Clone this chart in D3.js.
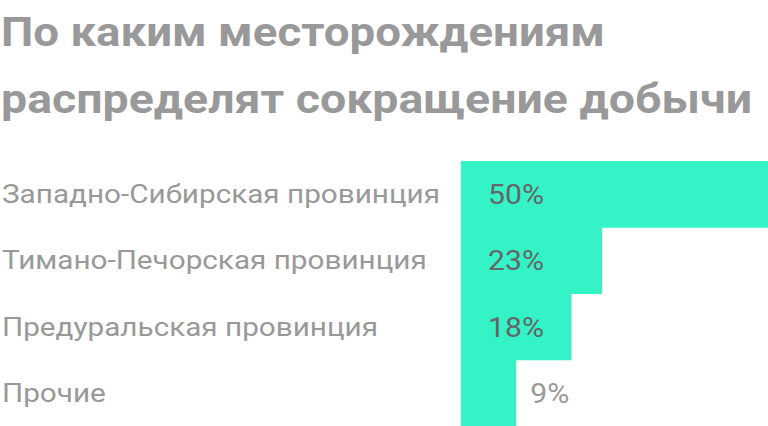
<!DOCTYPE html>
<html>
<head>
<meta charset="utf-8">
<script src="https://cdn.jsdelivr.net/npm/d3@7"></script>
<style>
  body { margin: 0; background: #fff; }
  svg { display: block; }
</style>
</head>
<body>
<svg width="768" height="426"></svg>
<script>
// data
const titleLines = ["По каким месторождениям", "распределят сокращение добычи"];
const categories = ["Западно-Сибирская провинция", "Тимано-Печорская провинция", "Предуральская провинция", "Прочие"];
const values = [50, 23, 18, 9];

const svg = d3.select("svg");
const W = 768, H = 426;
const barLeft = 461;

// title
svg.selectAll(".title")
   .data(titleLines)
   .enter()
   .append("text")
   .attr("class", "title")
   .attr("x", 1)
   .attr("y", function(d, i) { return 46 + i * 67; })
   .attr("textLength", function(d, i) { return i === 0 ? 604 : 751; })
   .attr("lengthAdjust", "spacingAndGlyphs")
   .style("font-family", "Roboto, 'Noto Sans', sans-serif")
   .style("font-weight", 700)
   .style("font-size", "41px")
   .style("fill", "#999")
   .text(function(d) { return d; });

const data = categories.map(function(c, i) { return {name: c, value: values[i]}; });

const x = d3.scaleLinear()
            .domain([0, 50])
            .range([barLeft, W]);

const y = d3.scaleBand()
            .domain(categories)
            .range([161, H])
            .padding(0);

// bars
svg.selectAll("rect.bar")
   .data(data)
   .enter()
   .append("rect")
   .attr("class", "bar")
   .attr("x", x(0))
   .attr("y", function(d) { return y(d.name); })
   .attr("width", function(d) { return x(d.value) - x(0); })
   .attr("height", y.bandwidth() + 0.5)
   .style("fill", "#34f3c6");

// stretch a text selection so its first item gets the wanted width (original font is wider)
function widen(sel, target) {
  const k = target / sel.node().getComputedTextLength();
  sel.each(function() {
    d3.select(this)
      .attr("textLength", this.getComputedTextLength() * k)
      .attr("lengthAdjust", "spacingAndGlyphs");
  });
}

// category labels
const cats = svg.selectAll("text.cat")
   .data(data)
   .enter()
   .append("text")
   .attr("class", "cat")
   .attr("x", 2)
   .attr("y", function(d) { return y(d.name) + y.bandwidth() / 2 + 9; })
   .style("font-family", "Roboto, sans-serif")
   .style("font-size", "25px")
   .style("fill", "#999")
   .text(function(d) { return d.name; });
widen(cats, 438);

// value labels
const vals = svg.selectAll("text.val")
   .data(data)
   .enter()
   .append("text")
   .attr("class", "val")
   .attr("x", function(d) {
     return (x(d.value) - x(0)) > 80 ? x(0) + 27 : x(d.value) + 14;
   })
   .attr("y", function(d) { return y(d.name) + y.bandwidth() / 2 + 10; })
   .style("font-family", "Roboto, sans-serif")
   .style("font-size", "28px")
   .style("fill", function(d) { return (x(d.value) - x(0)) > 80 ? "#666" : "#999"; })
   .text(function(d) { return d.value + "%"; });
widen(vals, 56);
</script>
</body>
</html>
